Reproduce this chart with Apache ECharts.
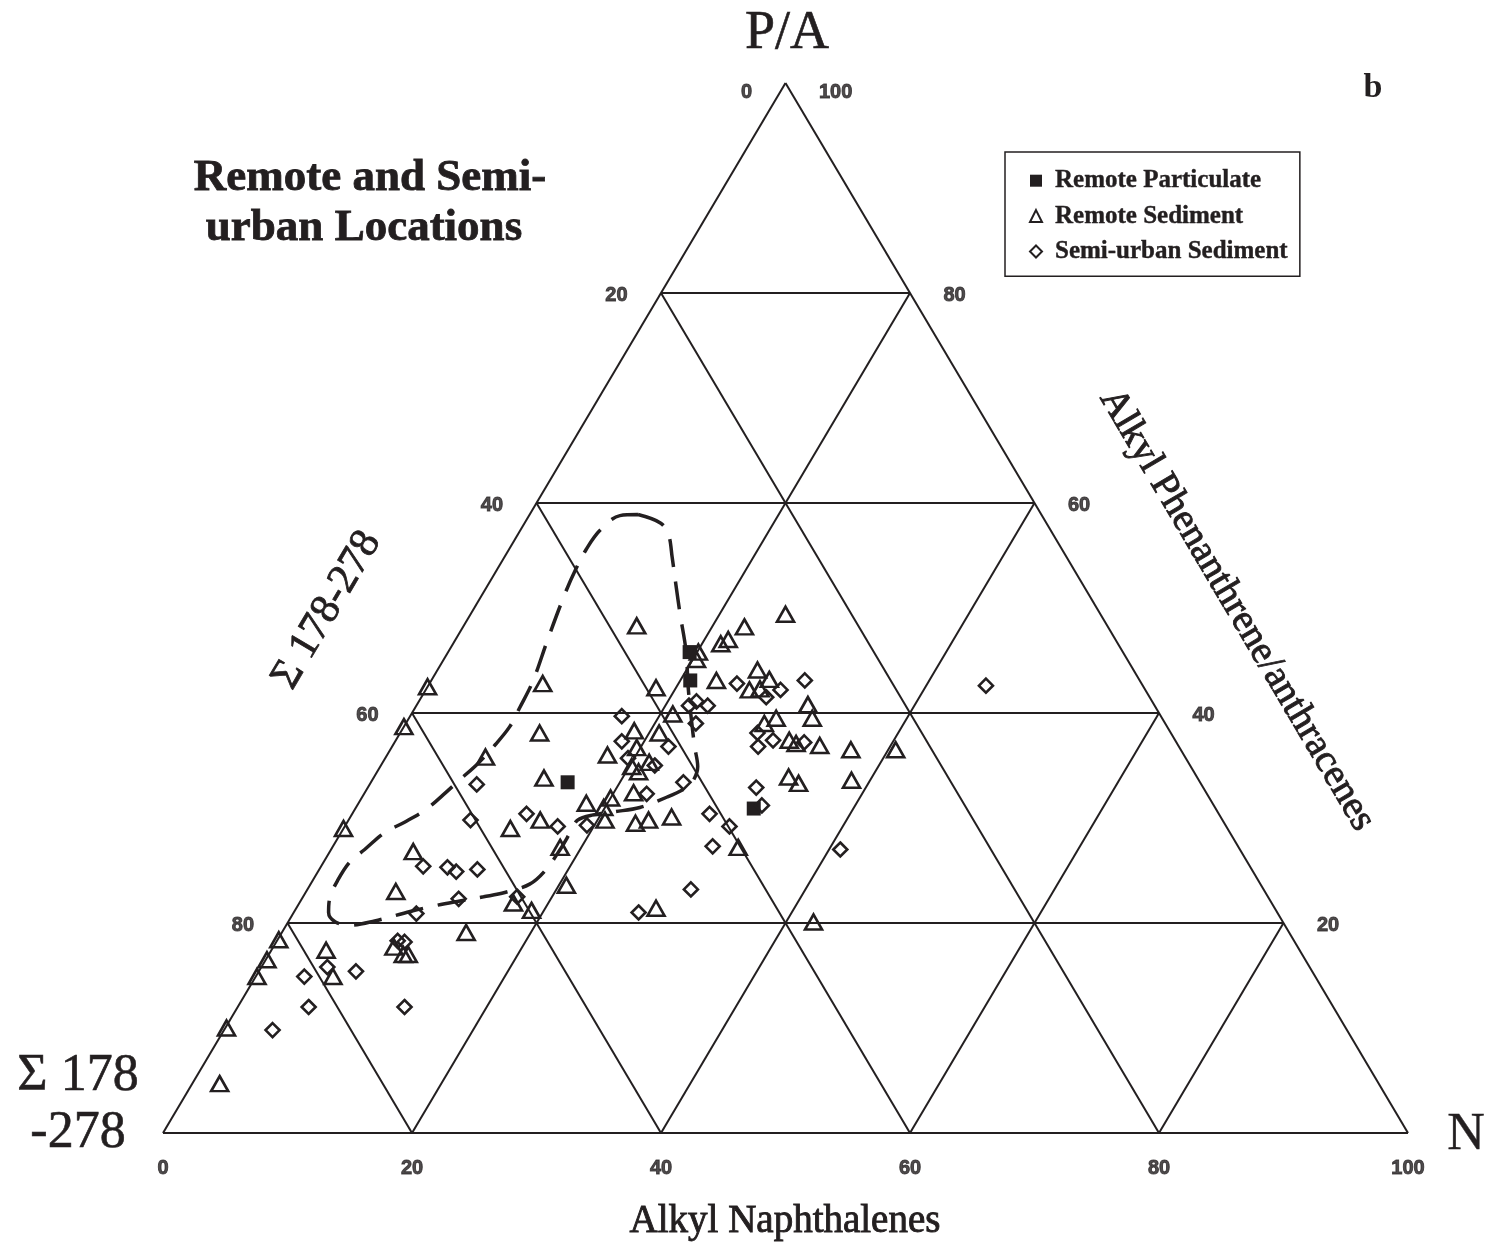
<!DOCTYPE html>
<html>
<head>
<meta charset="utf-8">
<script src="https://cdn.jsdelivr.net/npm/echarts@6/dist/echarts.min.js"></script>
<style>
  html, body { margin: 0; padding: 0; background: #fff; }
  #chart { width: 1491px; height: 1246px; }
</style>
</head>
<body>
<div id="chart"></div>
<script>
// Ternary composition: each point is [Alkyl Naphthalenes %, P/A %]; Σ178-278 is the remainder.
const ticks = [0, 20, 40, 60, 80, 100];
const gridLevels = [20, 40, 60, 80];

const remoteParticulate = [
  [19.4, 45.8], [20.8, 43.1], [15.8, 33.4], [32.0, 30.9]
];

const remoteSediment = [
  [25.3, 49.4], [13.9, 48.3], [22.6, 48.2], [21.9, 47.0], [21.5, 46.6], [20.1, 45.8],
  [20.3, 45.1], [0.0, 42.5], [9.1, 42.8], [18.4, 42.4], [22.9, 43.1], [25.7, 44.1],
  [27.1, 43.2], [26.0, 42.2], [26.8, 42.3], [31.4, 40.8], [32.4, 39.5], [21.0, 39.9],
  [29.5, 39.5], [28.8, 39.0], [0.0, 38.7], [11.2, 38.1], [18.7, 38.3], [20.8, 38.1],
  [31.6, 37.4], [32.3, 37.1], [34.3, 36.9], [37.0, 36.5], [40.6, 36.5], [17.7, 36.0],
  [8.0, 35.8], [19.7, 36.7], [21.4, 35.3], [20.2, 34.9], [21.0, 34.4], [13.7, 33.8],
  [33.3, 33.9], [34.4, 33.3], [38.5, 33.6], [21.6, 32.4], [20.0, 31.9], [18.3, 31.4],
  [19.9, 31.0], [20.6, 29.8], [15.4, 29.8], [13.4, 29.0], [23.2, 29.5], [24.1, 29.8],
  [25.8, 30.1], [0.0, 29.0], [18.3, 27.2], [32.6, 27.2], [6.7, 26.8], [20.6, 23.6],
  [7.2, 23.0], [17.2, 21.9], [19.0, 21.2], [28.9, 21.4], [14.8, 19.1], [42.2, 20.1],
  [0.1, 18.4], [0.1, 16.5], [0.1, 14.9], [4.4, 17.4], [9.7, 17.7], [10.8, 17.0],
  [11.2, 17.0], [6.2, 14.9], [0.1, 10.0], [2.2, 4.7]
];

const semiUrbanSediment = [
  [44.8, 42.6], [30.0, 43.1], [24.7, 42.8], [28.5, 42.2], [27.7, 41.5], [21.9, 40.7],
  [22.3, 41.1], [23.4, 40.7], [17.0, 39.7], [23.3, 39.0], [28.7, 38.1], [30.3, 37.4],
  [29.4, 36.8], [32.9, 37.2], [18.2, 37.3], [22.2, 36.8], [19.5, 35.7], [22.0, 35.0],
  [8.6, 33.2], [25.1, 33.4], [31.2, 32.9], [22.7, 32.3], [32.5, 31.2], [14.0, 30.4],
  [9.8, 29.8], [17.1, 29.2], [19.4, 29.3], [28.7, 30.4], [30.9, 29.2], [30.5, 27.3],
  [40.9, 27.0], [8.2, 25.4], [10.2, 25.3], [11.1, 24.9], [12.7, 25.1], [30.8, 23.2],
  [12.6, 22.3], [17.2, 22.5], [9.9, 20.9], [27.7, 21.0], [9.7, 18.3], [10.3, 18.2],
  [5.3, 15.8], [7.8, 15.4], [3.9, 14.9], [5.7, 12.0], [13.4, 12.0], [3.9, 9.8]
];

// Dashed envelope around the remote / semi-urban field
const envelope = [
  [8.7, 58.9], [10.9, 58.1], [12.1, 57.0], [13.5, 54.8], [15.1, 52.2], [16.9, 49.3],
  [19.0, 46.0], [21.1, 42.2], [22.8, 39.3], [24.3, 36.8], [25.5, 34.9], [25.8, 33.4],
  [25.4, 32.7], [24.5, 32.0], [22.8, 31.0], [21.0, 30.6], [19.4, 30.3], [18.4, 29.8],
  [18.4, 28.7], [18.4, 27.0], [18.2, 25.0], [17.6, 23.7], [16.0, 22.9], [14.5, 22.5],
  [12.8, 22.1], [11.2, 21.7], [9.3, 21.1], [6.9, 20.2], [5.1, 19.8], [3.8, 20.1],
  [2.8, 21.0], [2.2, 22.4], [2.0, 24.1], [2.1, 25.8], [2.7, 27.0], [3.5, 28.6],
  [4.6, 29.6], [5.7, 30.8], [6.4, 32.2], [7.0, 33.6], [7.7, 35.2], [8.2, 37.0],
  [8.5, 38.7], [8.4, 40.5], [8.2, 43.0], [7.4, 47.0], [6.6, 51.4], [6.3, 53.8],
  [6.2, 55.6], [6.4, 57.4], [7.3, 58.8], [8.7, 58.9]
];

const INK = '#231f20';
const SERIF = '"Liberation Serif", "Times New Roman", serif';
const SANS = '"Liberation Sans", Arial, sans-serif';

// [N, P/A] -> plane position inside the triangle (base 0..100, apex at x=50)
const toXY = (n, pa) => [n + pa / 2, pa];
const mapPts = arr => arr.map(p => toXY(p[0], p[1]));

// Triangle frame and 20% grid
const frameLines = [
  { coords: [toXY(0, 0), toXY(100, 0)] },
  { coords: [toXY(100, 0), toXY(0, 100)] },
  { coords: [toXY(0, 100), toXY(0, 0)] }
];
gridLevels.forEach(k => {
  frameLines.push({ coords: [toXY(0, k), toXY(100 - k, k)] });       // constant P/A
  frameLines.push({ coords: [toXY(k, 0), toXY(k, 100 - k)] });       // constant N
  frameLines.push({ coords: [toXY(100 - k, 0), toXY(0, 100 - k)] }); // constant Σ178-278
});

// Tick labels on the three sides
const tickFont = {
  fontFamily: SANS, fontWeight: 'bold', fontSize: 20, color: INK,
  textBorderColor: INK, textBorderWidth: 0.9
};
const leftTicks = ticks.filter(t => t < 100).map(t => ({
  value: toXY(0, 100 - t),
  label: { formatter: String(t), offset: [0, t === 0 ? 9 : 2] }
}));
const rightTicks = ticks.filter(t => t > 0).map(t => ({
  value: toXY(100 - t, t),
  label: { formatter: String(t), offset: [0, t === 100 ? 9 : 2] }
}));
const bottomTicks = ticks.map(t => ({ value: toXY(t, 0), label: { formatter: String(t) } }));

const tickSeries = (data, position, distance) => ({
  type: 'scatter',
  silent: true,
  symbolSize: 1,
  itemStyle: { color: 'rgba(0,0,0,0)' },
  label: Object.assign({ show: true, position, distance }, tickFont),
  data,
  z: 5
});

const serifText = (text, x, y, size, extra) => ({
  type: 'text', x, y,
  rotation: (extra && extra.rotation) || 0,
  style: {
    text, fontFamily: SERIF, fontSize: size, fill: INK,
    fontWeight: (extra && extra.bold) ? 'bold' : 'normal',
    stroke: INK, lineWidth: (extra && extra.stroke) || 0,
    align: 'center', verticalAlign: 'middle'
  }
});

const chart = echarts.init(document.getElementById('chart'), null, { renderer: 'canvas' });

const option = {
  animation: false,
  backgroundColor: '#fff',
  grid: { left: 163, right: 83, top: 83, bottom: 113 },
  xAxis: { type: 'value', min: 0, max: 100, show: false },
  yAxis: { type: 'value', min: 0, max: 100, show: false },
  legend: {
    orient: 'vertical',
    left: 1005,
    top: 152,
    padding: [16, 12, 12, 24],
    itemGap: 10,
    itemWidth: 12,
    itemHeight: 12,
    borderColor: INK,
    borderWidth: 1.5,
    textStyle: {
      fontFamily: SERIF, fontWeight: 'bold', fontSize: 25, color: INK,
      padding: [0, 0, 0, 8], textBorderColor: INK, textBorderWidth: 0.4
    },
    data: ['Remote Particulate', 'Remote Sediment', 'Semi-urban Sediment']
  },
  graphic: [
    serifText('P/A', 787, 34, 54, { stroke: 0.6 }),
    serifText('b', 1373, 88, 34, { bold: true }),
    serifText('Remote and Semi-', 370, 178, 45, { bold: true, stroke: 0.8 }),
    serifText('urban Locations', 364, 228, 45, { bold: true, stroke: 0.8 }),
    serifText('Σ 178-278', 327, 610, 42, { rotation: 1.037, stroke: 0.8 }),
    serifText('Alkyl Phenanthrene/anthracenes', 1237, 610, 39, { rotation: -1.037, stroke: 0.9 }),
    serifText('Σ 178', 78, 1076, 52, { stroke: 0.6 }),
    serifText('-278', 78, 1133, 52, { stroke: 0.6 }),
    serifText('N', 1466, 1135, 52, { stroke: 0.4 }),
    serifText('Alkyl Naphthalenes', 785, 1222, 39, { stroke: 0.9 })
  ],
  series: [
    {
      type: 'lines',
      coordinateSystem: 'cartesian2d',
      silent: true,
      lineStyle: { color: INK, width: 2, opacity: 1 },
      data: frameLines,
      z: 1
    },
    tickSeries(leftTicks, 'left', 33),
    tickSeries(rightTicks, 'right', 33),
    tickSeries(bottomTicks, 'bottom', 25),
    {
      name: 'Remote Particulate',
      type: 'scatter',
      symbol: 'rect',
      symbolSize: 14,
      itemStyle: { color: INK, opacity: 1 },
      data: mapPts(remoteParticulate),
      z: 3
    },
    {
      name: 'Remote Sediment',
      type: 'scatter',
      symbol: 'triangle',
      symbolSize: [17, 15],
      itemStyle: { color: 'rgba(255,255,255,0)', borderColor: INK, borderWidth: 2.6, opacity: 1 },
      data: mapPts(remoteSediment),
      z: 3
    },
    {
      name: 'Semi-urban Sediment',
      type: 'scatter',
      symbol: 'diamond',
      symbolSize: 14,
      itemStyle: { color: 'rgba(255,255,255,0)', borderColor: INK, borderWidth: 2.6, opacity: 1 },
      data: mapPts(semiUrbanSediment),
      z: 3
    },
    {
      type: 'line',
      silent: true,
      smooth: 0.35,
      showSymbol: false,
      symbol: 'none',
      lineStyle: { color: INK, width: 3.5, type: [28, 15], opacity: 1 },
      data: mapPts(envelope),
      z: 4
    }
  ]
};

chart.setOption(option);
</script>
</body>
</html>
